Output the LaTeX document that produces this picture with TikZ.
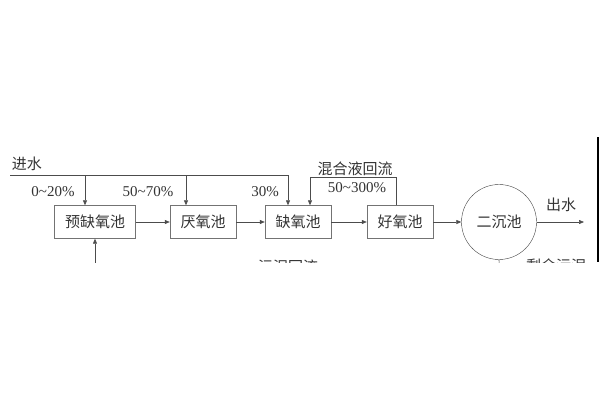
\documentclass[tikz,border=0pt]{standalone}
\usepackage{fontspec}
\setmainfont{Liberation Serif}
\newfontfamily\cjk{Noto Sans CJK SC}
\usetikzlibrary{arrows.meta}

\begin{document}
\begin{tikzpicture}[x=1pt,y=-1pt,>={Triangle[length=5pt,width=4pt]}]
\tikzstyle{every node}=[font=\fontsize{15}{17}\selectfont\cjk,text=black!80]
\tikzstyle{tank}=[draw=black!55,rectangle,minimum height=33pt,inner sep=1pt]
\tikzstyle{clarifier}=[draw=black!75,circle,minimum size=75pt,inner sep=0pt]
\tikzstyle{pipe}=[draw=black!70,line width=0.6pt]
\tikzstyle{ratio}=[font=\fontsize{15}{17}\selectfont,text=black!80]

\useasboundingbox (0,0) rectangle (600,400);
\begin{scope}
\clip (0,0) rectangle (600,262);
\node[tank,minimum width=81pt] (pre) at (95,222) {预缺氧池};
\node[tank,minimum width=66pt] (ana) at (203,222) {厌氧池};
\node[tank,minimum width=66pt] (anox) at (298,222) {缺氧池};
\node[tank,minimum width=66pt] (aer) at (400,222) {好氧池};
\node[clarifier] (sec) at (499,222) {二沉池};

% influent split
\node (inlabel) at (27,164) {进水};
\coordinate (feed) at (10,175);
\coordinate (f1) at (85,175);
\coordinate (f2) at (186,175);
\coordinate (f3) at (288,175);
\draw[pipe] (feed) -- (f3);
\draw[pipe,->] (f1) -- (f1 |- pre.north);
\draw[pipe,->] (f2) -- (f2 |- ana.north);
\draw[pipe,->] (f3) -- (f3 |- anox.north);
\node[ratio] (p1) at (53,192) {0\textasciitilde20\%};
\node[ratio] (p2) at (148,192) {50\textasciitilde70\%};
\node[ratio] (p3) at (265,192) {30\%};

% main line
\draw[pipe,->] (pre) -- (ana);
\draw[pipe,->] (ana) -- (anox);
\draw[pipe,->] (anox) -- (aer);
\draw[pipe,->] (aer) -- (sec);
\coordinate (out) at (584,222);
\draw[pipe,->] (sec) -- (out);
\node (outlabel) at (561,205) {出水};

% mixed liquor recycle
\coordinate (r1) at (396,177);
\coordinate (r2) at (310,177);
\draw[pipe,->] (r1 |- aer.north) -- (r1) -- (r2) -- (r2 |- anox.north);
\node (mixlabel) at (355,169) {混合液回流};
\node[ratio] (p4) at (357,188) {50\textasciitilde300\%};

% sludge
\coordinate (ret) at (95,285);
\draw[pipe,->] (ret) -- (pre.south);
\node (retlabel) at (288,267) {污泥回流};
\coordinate (waste) at (500,285);
\draw[pipe] (sec.south) -- (waste);
\node (wastelabel) at (556,266) {剩余污泥};
\end{scope}
\draw[black,line width=1.2pt] (598,137) -- (598,262);
\end{tikzpicture}
\end{document}
